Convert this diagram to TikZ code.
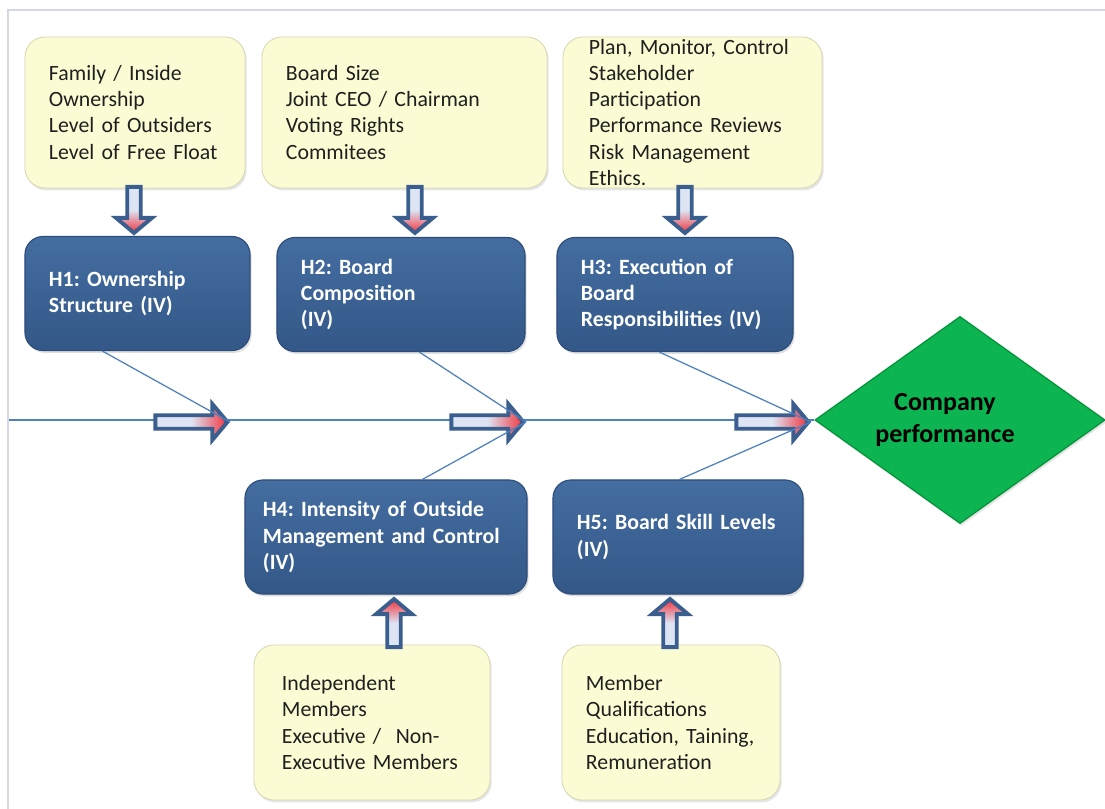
\documentclass[tikz,border=0pt]{standalone}
\usepackage{fontspec}
\setmainfont{Carlito}
\usepackage{tikz}
\usetikzlibrary{positioning,shapes.geometric,shapes.arrows,shadows,calc}
\frenchspacing
\hyphenpenalty=10000

\definecolor{boxcream}{HTML}{FCFCD4}
\definecolor{creamedge}{HTML}{D6D6B2}
\definecolor{hyptop}{HTML}{446DA0}
\definecolor{hypbottom}{HTML}{335888}
\definecolor{hypedge}{HTML}{2C4D7B}
\definecolor{arrowedge}{HTML}{3A5E8E}
\definecolor{arrowfill}{HTML}{DDE4F3}
\definecolor{arrowred}{HTML}{F0323C}
\definecolor{spokeblue}{HTML}{4F81BD}
\definecolor{perfgreen}{HTML}{0CB551}
\definecolor{perfedge}{HTML}{08973F}
\definecolor{framegray}{HTML}{D3D8E8}

\tikzset{
  factor/.style={rounded corners=0.5cm, fill=boxcream, draw=creamedge, line width=0.6pt,
    drop shadow={opacity=0.2,shadow xshift=0.04cm,shadow yshift=-0.06cm},
    align=left, text width=#1, inner xsep=0.6cm, inner ysep=0pt, minimum height=3.775cm,
    font=\fontsize{15.5}{18.5}\selectfont, text=black!88},
  hypo/.style={rounded corners=0.45cm, top color=hyptop, bottom color=hypbottom, draw=hypedge,
    line width=0.8pt, drop shadow={opacity=0.25,shadow xshift=0.04cm,shadow yshift=-0.06cm},
    align=left, text width=#1, inner xsep=0.6cm, minimum height=2.85cm,
    font=\bfseries\fontsize{15.5}{18.5}\selectfont, text=white},
  blockarrow/.style={single arrow, draw=arrowedge, line width=2.8pt, inner sep=0.12cm,
    single arrow head extend=0.28cm, single arrow tip angle=100, minimum height=#1},
  harrow/.style={blockarrow=#1, left color=arrowfill, right color=arrowred, middle color=arrowfill},
  darrow/.style={blockarrow=#1, shape border rotate=270, top color=arrowfill,
    bottom color=arrowred, middle color=arrowfill},
  uarrow/.style={blockarrow=#1, shape border rotate=90, bottom color=arrowfill,
    top color=arrowred, middle color=arrowfill},
  spoke/.style={draw=spokeblue, line width=0.9pt},
  spine/.style={draw=spokeblue, line width=1.4pt},
}

\begin{document}
\begin{tikzpicture}[x=0.025cm,y=-0.025cm]
  \useasboundingbox (0,0) rectangle (1105,809);
  \draw[framegray, line width=1.4pt] (8,809) -- (8,10) -- (1105,10);

  % factors feeding the hypotheses
  \node[factor=4.3cm] (y1) at (135,112.5) {Family / Inside\\Ownership\\Level of Outsiders\\Level of Free Float};
  \node[factor=5.925cm] (y2) at (404.5,112.5) {Board Size\\Joint CEO / Chairman\\Voting Rights\\Commitees};
  \node[factor=5.175cm, inner xsep=0.65cm] (y3) at (692.5,112.5) {Plan, Monitor, Control\\Stakeholder\\Participation\\Performance Reviews\\Risk Management\\Ethics.};
  \node[factor=4.5cm, inner xsep=0.7cm, minimum height=3.875cm] (y4) at (372,722.5) {Independent\\Members\\Executive / \ Non-\\Executive Members};
  \node[factor=4.25cm, minimum height=3.875cm] (y5) at (671,722.5) {Member\\Qualifications\\Education, Taining,\\Remuneration};

  % hypotheses
  \node[hypo=4.425cm] (h1) at (137.5,293.5) {H1: Ownership\\Structure (IV)};
  \node[hypo=5cm] (h2) at (401,294.5) {H2: Board\\Composition\\(IV)};
  \node[hypo=4.7cm] (h3) at (675,294.5) {H3: Execution of\\Board\\Responsibilities (IV)};
  \node[hypo=6.15cm, inner xsep=0.45cm] (h4) at (386,537) {H4: Intensity of Outside\\Management and Control\\(IV)};
  \node[hypo=5.05cm] (h5) at (678,537) {H5: Board Skill Levels\\(IV)};

  \node[diamond, aspect=1.4, fill=perfgreen, draw=perfedge, line width=1pt, inner sep=0pt,
        minimum width=7.25cm, minimum height=5.175cm, align=center,
        font=\bfseries\fontsize{18.5}{22.7}\selectfont,
        drop shadow={opacity=0.2,shadow xshift=0.04cm,shadow yshift=-0.06cm}]
        (cp) at (960,420) {Company\hspace*{0.75cm}\\performance\hspace*{0.75cm}};

  % spine of the fishbone
  \coordinate (start) at (9,420);
  \draw[spine] (start) -- (cp.west);

  \node[harrow=1.8cm, anchor=tip] (a1) at (230,422) {};
  \node[harrow=1.8cm, anchor=tip] (a2) at (526,422) {};
  \node[harrow=1.8cm, anchor=tip] (a3) at (811,422) {};

  \node[darrow=1.15cm, anchor=tip] (d1) at (134,235.5) {};
  \node[darrow=1.15cm, anchor=tip] (d2) at (415,235.5) {};
  \node[darrow=1.15cm, anchor=tip] (d3) at (685,235.5) {};
  \node[uarrow=1.2cm, anchor=tip] (u4) at (394,596.5) {};
  \node[uarrow=1.2cm, anchor=tip] (u5) at (670,596.5) {};

  \draw[spoke] (h1.south west) ++(78,0) -- (a1.tip);
  \draw[spoke] (h2.south west) ++(143,0) -- (a2.tip);
  \draw[spoke] (h3.south west) ++(103,0) -- (a3.tip);
  \draw[spoke] (h4.north west) ++(178,0) -- (a2.tip);
  \draw[spoke] (h5.north west) ++(127,0) -- (a3.tip);
\end{tikzpicture}
\end{document}
